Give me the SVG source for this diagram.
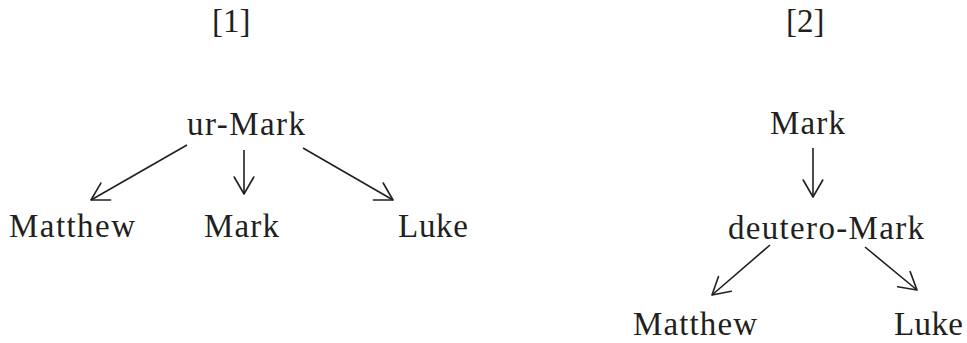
<svg xmlns="http://www.w3.org/2000/svg" width="967" height="343" viewBox="0 0 967 343">
<defs>
<style>
text{font-family:"Liberation Serif","Times New Roman",serif;font-size:33px;fill:#231f20}
.c line{stroke:#231f20;stroke-width:1.6;fill:none;marker-end:url(#ah)}
</style>
<marker id="ah" markerUnits="userSpaceOnUse" markerWidth="24" markerHeight="24" viewBox="-20 -12 24 24" refX="0" refY="0" orient="auto" overflow="visible">
<path d="M-17,-9.8 L0,0 L-17,9.8" fill="none" stroke="#231f20" stroke-width="1.6" stroke-linecap="round" stroke-linejoin="round"/>
</marker>
</defs>
<g id="title1"><text x="212" y="32">[1]</text></g>
<g id="title2"><text x="786" y="32">[2]</text></g>
<g id="n-urmark"><text x="187" y="135" textLength="118" lengthAdjust="spacing">ur-Mark</text></g>
<g id="n-matthew1"><text x="9" y="237" textLength="126" lengthAdjust="spacing">Matthew</text></g>
<g id="n-mark1"><text x="204" y="237" textLength="75" lengthAdjust="spacing">Mark</text></g>
<g id="n-luke1"><text x="398" y="237" textLength="70" lengthAdjust="spacing">Luke</text></g>
<g id="n-mark2"><text x="770" y="134" textLength="75" lengthAdjust="spacing">Mark</text></g>
<g id="n-deutero"><text x="728" y="239" textLength="196" lengthAdjust="spacing">deutero-Mark</text></g>
<g id="n-matthew2"><text x="633" y="335" textLength="124" lengthAdjust="spacing">Matthew</text></g>
<g id="n-luke2"><text x="894" y="335" textLength="69" lengthAdjust="spacing">Luke</text></g>
<g id="connectors" class="c">
<line x1="187" y1="145" x2="91" y2="200"/>
<line x1="244" y1="150" x2="244" y2="194"/>
<line x1="303" y1="148" x2="393" y2="200"/>
<line x1="813" y1="148" x2="813" y2="197"/>
<line x1="770" y1="245" x2="712" y2="295"/>
<line x1="865" y1="247" x2="917" y2="290"/>
</g>
</svg>
